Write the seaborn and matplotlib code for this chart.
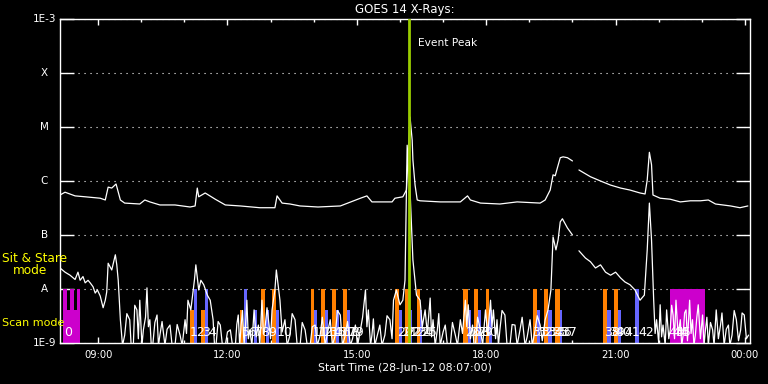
import numpy as np
import pandas as pd
import matplotlib
matplotlib.use("Agg")
import matplotlib.pyplot as plt
import matplotlib.transforms as mtransforms
from matplotlib.ticker import FixedLocator, NullLocator
import seaborn as sns

# ---------------- data ----------------
# GOES 14 long channel (1-8 A), W/m^2 ; NaN marks a data gap
LONG_TIME = ["08:07", "08:14", "08:28", "08:42", "09:03", "09:10", "09:14", "09:19", "09:25", "09:31",
             "09:37", "09:58", "10:05", "10:12", "10:26", "10:47", "11:08", "11:15", "11:18", "11:20",
             "11:29", "11:43", "11:57", "12:18", "12:45", "13:06", "13:09", "13:16", "13:27", "13:41",
             "14:06", "14:37", "15:05", "15:14", "15:21", "15:49", "15:53", "16:04", "16:09", "16:11",
             "16:14", "16:17", "16:18", "16:21", "16:24", "16:28", "16:56", "17:24", "17:34", "17:38",
             "17:52", "18:19", "18:43", "19:15", "19:22", "19:29", "19:33", "19:36", "19:39", "19:43",
             "19:47", "19:53", "20:00", "20:05", "20:09", "20:25", "20:39", "20:53", "21:07", "21:20",
             "21:34", "21:41", "21:44", "21:47", "21:50", "21:52", "22:02", "22:16", "22:30", "22:44",
             "22:58", "23:09", "23:19", "23:40", "23:53", "00:04"]
LONG_FLUX = [5.5e-7, 6.2e-7, 5.3e-7, 5.1e-7, 4.8e-7, 4.45e-7, 7.7e-7, 7.4e-7, 8.8e-7, 4.45e-7,
             3.9e-7, 3.75e-7, 4.45e-7, 4.1e-7, 3.6e-7, 3.6e-7, 3.3e-7, 3.45e-7, 7.4e-7, 5.1e-7,
             6.0e-7, 4.6e-7, 3.6e-7, 3.45e-7, 3.2e-7, 3.2e-7, 5.3e-7, 3.9e-7, 3.75e-7, 3.45e-7,
             3.3e-7, 3.45e-7, 4.8e-7, 5.3e-7, 4.1e-7, 4.1e-7, 4.8e-7, 5.1e-7, 6.8e-7, 2.45e-6,
             1.53e-5, 5.7e-6, 2.45e-6, 8.4e-7, 4.45e-7, 4.3e-7, 4.1e-7, 4.1e-7, 5.3e-7, 4.45e-7,
             3.9e-7, 3.75e-7, 4.1e-7, 3.9e-7, 4.45e-7, 6.8e-7, 1.3e-6, 1.25e-6, 1.75e-6, 2.7e-6,
             2.8e-6, 2.7e-6, 2.35e-6, np.nan, 1.6e-6, 1.2e-6, 1.0e-6, 8.4e-7, 7.4e-7, 6.8e-7,
             6.0e-7, 5.75e-7, 1.05e-6, 3.4e-6, 2.0e-6, 5.5e-7, 4.8e-7, 4.6e-7, 4.1e-7, 4.3e-7,
             4.3e-7, 4.45e-7, 3.75e-7, 3.45e-7, 3.2e-7, 3.45e-7]

# GOES 14 short channel (0.5-4 A): (time, W/m^2) samples ; NaN marks a data gap
SHORT_SAMPLES = [
    ("08:07", 2.45e-8), ("08:14", 2.05e-8), ("08:21", 1.8e-8), ("08:28", 1.5e-8), ("08:32", 2.05e-8),
    ("08:35", 1.45e-8), ("08:39", 1.7e-8), ("08:42", 1.3e-8), ("08:46", 1.45e-8), ("08:49", 1.3e-8),
    ("08:53", 1.1e-8), ("08:56", 8.4e-9), ("08:59", 9.6e-9), ("09:03", 7.4e-9), ("09:07", 4.5e-9),
    ("09:10", 6.2e-9), ("09:12", 8.8e-9), ("09:14", 3.0e-8), ("09:19", 2.25e-8), ("09:24", 4.3e-8),
    ("09:26", 2.8e-8), ("09:28", 1.45e-8),
    ("09:31", 2.7e-9), ("09:34", 9e-10), ("09:37", 1.4e-9), ("09:40", 3.5e-9), ("09:44", 2.7e-9),
    ("09:46", 9e-10), ("09:49", 9e-10), ("09:51", 5e-9), ("09:54", 4.1e-9), ("09:56", 1.2e-9),
    ("09:58", 6.2e-9), ("10:01", 9e-10), ("10:03", 1.75e-9), ("10:06", 3e-9), ("10:08", 1.05e-8),
    ("10:10", 2e-9), ("10:12", 2.7e-9), ("10:14", 9e-10), ("10:16", 9e-10), ("10:19", 2.4e-9),
    ("10:22", 3.3e-9), ("10:24", 9e-10), ("10:26", 1.4e-9), ("10:29", 2.5e-9), ("10:33", 9e-10),
    ("10:36", 1.8e-9), ("10:40", 2.15e-9), ("10:43", 9e-10), ("10:47", 9e-10), ("10:50", 2.2e-9),
    ("10:54", 1.4e-9), ("10:57", 9e-10), ("11:01", 2.7e-9), ("11:03", 1.5e-9), ("11:05", 6.2e-9),
    ("11:09", 4.1e-9), ("11:14", 1.45e-8), ("11:16", 2.8e-8), ("11:20", 9.6e-9), ("11:23", 1.45e-8),
    ("11:27", 1.2e-8), ("11:32", 7.7e-9), ("11:36", 6.2e-9),
    ("11:40", 2.7e-9), ("11:42", 9e-10), ("11:44", 9e-10), ("11:47", 2.5e-9), ("11:50", 2.15e-9),
    ("11:53", 9e-10), ("11:57", 9e-10), ("12:00", 1.6e-9), ("12:04", 1.75e-9), ("12:07", 9e-10),
    ("12:11", 9e-10), ("12:13", 2.2e-9), ("12:15", 3.3e-9), ("12:17", 9e-10), ("12:19", 2.15e-9),
    ("12:21", 4e-9), ("12:23", 9e-10), ("12:25", 2e-9), ("12:27", 6.2e-9), ("12:29", 1.2e-9),
    ("12:31", 1.75e-9), ("12:34", 9e-10), ("12:37", 4.1e-9), ("12:40", 1.3e-9), ("12:43", 2.15e-9),
    ("12:45", 9e-10), ("12:48", 6.2e-9), ("12:50", 1.5e-9), ("12:52", 1.75e-9), ("12:55", 4.5e-9),
    ("12:57", 2.7e-9), ("13:00", 1.2e-9), ("13:02", 4.1e-9), ("13:06", 9.6e-9), ("13:08", 2.25e-8),
    ("13:13", 6.2e-9), ("13:16", 1.6e-9), ("13:20", 2.7e-9), ("13:23", 9e-10), ("13:27", 1.4e-9),
    ("13:30", 3.5e-9), ("13:34", 2.7e-9), ("13:37", 9e-10), ("13:41", 9e-10), ("13:44", 2.4e-9),
    ("13:48", 1.75e-9), ("13:51", 9e-10), ("13:55", 9e-10), ("13:58", 2e-9), ("14:02", 2.15e-9),
    ("14:05", 9e-10), ("14:09", 1.4e-9), ("14:12", 3e-9), ("14:16", 9e-10), ("14:19", 1.5e-9),
    ("14:23", 2.7e-9), ("14:26", 9e-10), ("14:30", 1.4e-9), ("14:33", 4e-9), ("14:37", 3.3e-9),
    ("14:40", 9e-10), ("14:44", 1.4e-9), ("14:47", 2.5e-9), ("14:51", 9e-10), ("14:54", 1.2e-9),
    ("14:58", 2.15e-9), ("15:01", 9e-10), ("15:05", 1.75e-9), ("15:08", 3e-9), ("15:12", 9.6e-9),
    ("15:14", 2e-9), ("15:16", 4.1e-9), ("15:19", 9e-10), ("15:21", 1.4e-9), ("15:23", 2.8e-9),
    ("15:25", 9e-10), ("15:28", 1.3e-9), ("15:32", 2.15e-9), ("15:35", 9e-10), ("15:39", 1.4e-9),
    ("15:42", 3.2e-9), ("15:46", 2.7e-9), ("15:49", 1.2e-9), ("15:51", 6.2e-9), ("15:55", 9.6e-9),
    ("16:00", 5.1e-9), ("16:04", 6.2e-9), ("16:07", 1.45e-8), ("16:10", 4.6e-6), ("16:14", 6.8e-7),
    ("16:18", 3.45e-8), ("16:23", 7.7e-9), ("16:28", 6.2e-9), ("16:31", 2e-9), ("16:35", 4.1e-9),
    ("16:38", 1.5e-9), ("16:42", 6.8e-9), ("16:44", 1.3e-9), ("16:46", 2.7e-9), ("16:49", 9e-10),
    ("16:52", 1.75e-9), ("16:54", 3.5e-9), ("16:56", 9e-10), ("17:00", 1.6e-9), ("17:03", 2.15e-9),
    ("17:06", 9e-10), ("17:10", 9e-10), ("17:13", 2.4e-9), ("17:17", 1.4e-9), ("17:20", 9e-10),
    ("17:24", 2.7e-9), ("17:27", 1.5e-9), ("17:31", 6.2e-9), ("17:33", 2e-9), ("17:35", 5.1e-9),
    ("17:38", 1.2e-9), ("17:41", 2.15e-9), ("17:43", 9e-10), ("17:45", 9e-10), ("17:48", 3e-9),
    ("17:52", 1.75e-9), ("17:55", 9e-10), ("17:59", 4.1e-9), ("18:02", 1.4e-9), ("18:06", 6.2e-9),
    ("18:08", 2e-9), ("18:10", 4.1e-9), ("18:13", 1.2e-9), ("18:15", 2.7e-9), ("18:17", 9e-10),
    ("18:19", 1.75e-9), ("18:22", 4e-9), ("18:26", 3.3e-9), ("18:29", 9e-10), ("18:33", 9e-10),
    ("18:36", 2.2e-9), ("18:40", 2.15e-9), ("18:43", 9e-10), ("18:47", 1.75e-9), ("18:50", 3e-9),
    ("18:54", 9e-10), ("18:57", 1.3e-9), ("19:01", 2.7e-9), ("19:04", 9e-10), ("19:08", 1.75e-9),
    ("19:11", 3.2e-9), ("19:15", 2.15e-9), ("19:18", 1.1e-9), ("19:22", 2.7e-9), ("19:26", 4.1e-9),
    ("19:30", 9.6e-9), ("19:33", 9.2e-8), ("19:37", 5.3e-8), ("19:40", 8.1e-8), ("19:43", 1.75e-7),
    ("19:46", 2.0e-7), ("19:53", 1.35e-7), ("20:00", 1.0e-7), ("20:05", np.nan), ("20:09", 5.1e-8),
    ("20:18", 3.75e-8), ("20:25", 3.2e-8), ("20:32", 2.45e-8), ("20:39", 2.8e-8), ("20:46", 2.05e-8),
    ("20:53", 1.8e-8), ("21:00", 2.05e-8), ("21:07", 1.6e-8), ("21:13", 1.35e-8), ("21:20", 1.2e-8),
    ("21:27", 9.6e-9), ("21:34", 6.2e-9), ("21:40", 7.7e-9), ("21:44", 5.3e-8), ("21:47", 3.9e-7),
    ("21:50", 8.1e-8), ("21:53", 6.2e-9), ("21:55", 1.5e-9), ("21:57", 2.7e-9), ("22:00", 1e-9),
    ("22:02", 5.1e-9), ("22:04", 1.3e-9), ("22:06", 2.15e-9), ("22:09", 9e-10), ("22:11", 4.1e-9),
    ("22:14", 1.2e-9), ("22:16", 1.75e-9), ("22:18", 5e-9), ("22:20", 3.3e-9), ("22:22", 1.2e-9),
    ("22:24", 6.2e-9), ("22:27", 1.4e-9), ("22:30", 2.7e-9), ("22:32", 9e-10), ("22:34", 1.4e-9),
    ("22:36", 3.6e-9), ("22:38", 4.1e-9), ("22:40", 1.1e-9), ("22:43", 6.2e-9), ("22:45", 1.5e-9),
    ("22:47", 2.7e-9), ("22:49", 9e-10), ("22:51", 1.4e-9), ("22:53", 3e-9), ("22:55", 5.1e-9),
    ("22:58", 1.2e-9), ("23:01", 3.3e-9), ("23:03", 9e-10), ("23:05", 1.75e-9), ("23:07", 3e-9),
    ("23:09", 9e-10), ("23:12", 2.4e-9), ("23:15", 1.75e-9), ("23:17", 9e-10), ("23:20", 4.1e-9),
    ("23:23", 1.2e-9), ("23:26", 2.15e-9), ("23:28", 3.6e-9), ("23:31", 9e-10), ("23:34", 1.8e-9),
    ("23:37", 2.15e-9), ("23:39", 9e-10), ("23:42", 1.4e-9), ("23:45", 4e-9), ("23:48", 2.7e-9),
    ("23:51", 1.1e-9), ("23:54", 1.75e-9), ("23:56", 3.6e-9), ("23:59", 3.3e-9), ("00:02", 1.2e-9),
    ("00:05", 1.4e-9),
]
SHORT_TIME = [t for t, _ in SHORT_SAMPLES]
SHORT_FLUX = [f for _, f in SHORT_SAMPLES]

# observation bars: start, end, mode, instrument colour key
BAR_START = ["08:11", "08:11", "08:21", "08:31",
             "11:08", "11:14", "11:23", "11:29",
             "12:18", "12:23", "12:37", "12:47", "12:54", "13:02", "13:08",
             "13:56", "14:01", "14:10", "14:16", "14:26", "14:31", "14:41", "14:46",
             "15:53", "15:59", "16:07", "16:13", "16:23", "16:28",
             "17:28", "17:35", "17:43", "17:49", "17:59", "18:04",
             "19:05", "19:11", "19:21", "19:26", "19:36", "19:42",
             "20:43", "20:48", "20:58", "21:04", "21:27",
             "22:16"]
BAR_END = ["08:35", "08:17", "08:27", "08:35",
           "11:14", "11:18", "11:29", "11:33",
           "12:22", "12:27", "12:41", "12:52", "12:58", "13:08", "13:12",
           "14:01", "14:05", "14:16", "14:20", "14:31", "14:35", "14:46", "14:51",
           "15:59", "16:03", "16:13", "16:17", "16:28", "16:31",
           "17:34", "17:39", "17:49", "17:53", "18:04", "18:08",
           "19:11", "19:15", "19:26", "19:31", "19:42", "19:46",
           "20:48", "20:53", "21:04", "21:08", "21:33",
           "23:05"]
BAR_MODE = ["scan", "sit", "sit", "sit",
            "scan", "sit", "scan", "sit",
            "scan", "sit", "scan", "sit", "scan", "sit", "scan",
            "sit", "scan", "sit", "scan", "sit", "scan", "sit", "scan",
            "sit", "scan", "sit", "scan", "sit", "scan",
            "sit", "scan", "sit", "scan", "sit", "scan",
            "sit", "scan", "sit", "scan", "sit", "scan",
            "sit", "scan", "sit", "scan", "sit",
            "sit"]
BAR_KIND = ["M", "M", "M", "M",
            "O", "B", "O", "B",
            "O", "B", "B", "O", "B", "O", "B",
            "O", "B", "O", "B", "O", "B", "O", "B",
            "O", "B", "O", "B", "O", "B",
            "O", "B", "O", "B", "O", "B",
            "O", "B", "O", "B", "O", "B",
            "O", "B", "O", "B", "B",
            "M"]

OBS_LABEL = [str(i) for i in range(46)]
OBS_TIME = ["08:13",
            "11:08", "11:16", "11:25", "11:33",
            "12:20", "12:29", "12:38", "12:47", "12:57", "13:08",
            "13:59", "14:05", "14:12", "14:18", "14:24", "14:30", "14:37", "14:43", "14:49",
            "15:56", "16:03", "16:09", "16:16", "16:23", "16:30",
            "17:31", "17:37", "17:43", "17:48", "17:54",
            "19:04", "19:11", "19:17", "19:24", "19:31", "19:37", "19:44",
            "20:44", "20:51", "21:00", "21:12", "21:32",
            "22:13", "22:19", "22:23"]

EVENT_PEAK = "16:13"
START, END = "08:07", "00:07"
Y_TICKS = [1e-9, 1e-8, 1e-7, 1e-6, 1e-5, 1e-4, 1e-3]
Y_LABELS = ["1E-9", "A", "B", "C", "M", "X", "1E-3"]
X_TICKS = [9, 12, 15, 18, 21, 24]
X_LABELS = ["09:00", "12:00", "15:00", "18:00", "21:00", "00:00"]
MODE_TOP = {"sit": 1e-8, "scan": 4.1e-9}
KIND_COLOR = {"M": "#CC00CC", "O": "#FF8000", "B": "#6666FF"}


def hours(s):
    h, m = map(int, s.split(":"))
    v = h + m / 60.0
    return v + 24 if v < 8 else v


def frame(times, flux):
    df = pd.DataFrame({"t": [hours(s) for s in times], "flux": flux})
    df["seg"] = df["flux"].isna().cumsum()
    return df.dropna()


# ---------------- plot ----------------
sns.set_theme(style="ticks", rc={
    "figure.facecolor": "black", "axes.facecolor": "black", "axes.edgecolor": "white",
    "text.color": "white", "xtick.color": "white", "ytick.color": "white",
    "axes.labelcolor": "white", "axes.linewidth": 1.0,
})
plt.rcParams["font.family"] = ["DejaVu Sans"]

fig = plt.figure(figsize=(7.68, 3.84), dpi=100)
ax = fig.add_axes([60 / 768, 41 / 384, 690 / 768, 324 / 384])
ax.set_yscale("log")
ax.set_ylim(1e-9, 1e-3)
ax.set_xlim(hours(START), hours(END))

# observation bars
bs = np.array([hours(s) for s in BAR_START])
be = np.array([hours(s) for s in BAR_END])
tops = np.array([MODE_TOP[m] for m in BAR_MODE])
ax.bar(x=bs, height=tops - 1e-9, width=be - bs, bottom=1e-9, align="edge",
       color=[KIND_COLOR[k] for k in BAR_KIND], linewidth=0, zorder=1)

# curves
for times, flux in [(LONG_TIME, LONG_FLUX), (SHORT_TIME, SHORT_FLUX)]:
    sns.lineplot(data=frame(times, flux), x="t", y="flux", units="seg", estimator=None,
                 color="white", linewidth=0.9, ax=ax, legend=False, zorder=3)

# event peak
tp = hours(EVENT_PEAK)
ax.axvline(tp, color="#99CC00", linewidth=2.0, zorder=5)
blend = mtransforms.blended_transform_factory(ax.transData, ax.transAxes)
ax.annotate("Event Peak", xy=(tp, 0.927), xycoords=blend, xytext=(6, 0),
            textcoords="offset points", ha="left", va="center", color="white", fontsize=7.7)

# observation numbers
for lab, t in zip(OBS_LABEL, OBS_TIME):
    ax.text(hours(t), 0.031, lab, transform=blend, ha="left", va="center",
            color="white", fontsize=9, zorder=4)

# axes styling
ax.set_ylim(1e-9, 1e-3)
ax.set_xlim(hours(START), hours(END))
ax.xaxis.set_major_locator(FixedLocator(X_TICKS))
ax.xaxis.set_minor_locator(FixedLocator(list(range(9, 25))))
ax.set_xticklabels(X_LABELS)
ax.tick_params(axis="x", which="major", direction="in", length=4.3, width=1,
               top=True, bottom=True, labelsize=7.2, pad=5)
ax.tick_params(axis="x", which="minor", direction="in", length=2.3, width=1,
               top=True, bottom=True)
ax.yaxis.set_major_locator(FixedLocator(Y_TICKS))
ax.yaxis.set_minor_locator(NullLocator())
ax.tick_params(axis="y", which="major", direction="in", length=10, width=1,
               left=True, right=True, labelleft=False)
ax.grid(True, axis="y", which="major", color="white", linestyle=(0, (1, 4.4)), linewidth=0.8)
ax.grid(False, axis="x")
for sp in ax.spines.values():
    sp.set_color("white")
    sp.set_linewidth(1.0)

yblend = mtransforms.blended_transform_factory(ax.transAxes, ax.transData)
for v, lab in zip(Y_TICKS, Y_LABELS):
    if len(lab) == 1:
        ax.text(-0.023, v, lab, transform=yblend, ha="center", va="center", color="white", fontsize=7.5)
    else:
        ax.text(-0.005, v, lab, transform=yblend, ha="right", va="center", color="white", fontsize=7.5)

ax.set_title("GOES 14 X-Rays:", color="white", fontsize=8.5, pad=4)
ax.set_xlabel("Start Time (28-Jun-12 08:07:00)", fontsize=7.8, labelpad=2)
ax.set_ylabel("")

fig.text(2 / 768, 1 - 258 / 384, "Sit & Stare", color="yellow", ha="left", va="center", fontsize=8.7)
fig.text(13 / 768, 1 - 271 / 384, "mode", color="yellow", ha="left", va="center", fontsize=8.7)
fig.text(2 / 768, 1 - 323 / 384, "Scan mode", color="yellow", ha="left", va="center", fontsize=8)

fig.savefig("out.png", dpi=100, facecolor="black")
